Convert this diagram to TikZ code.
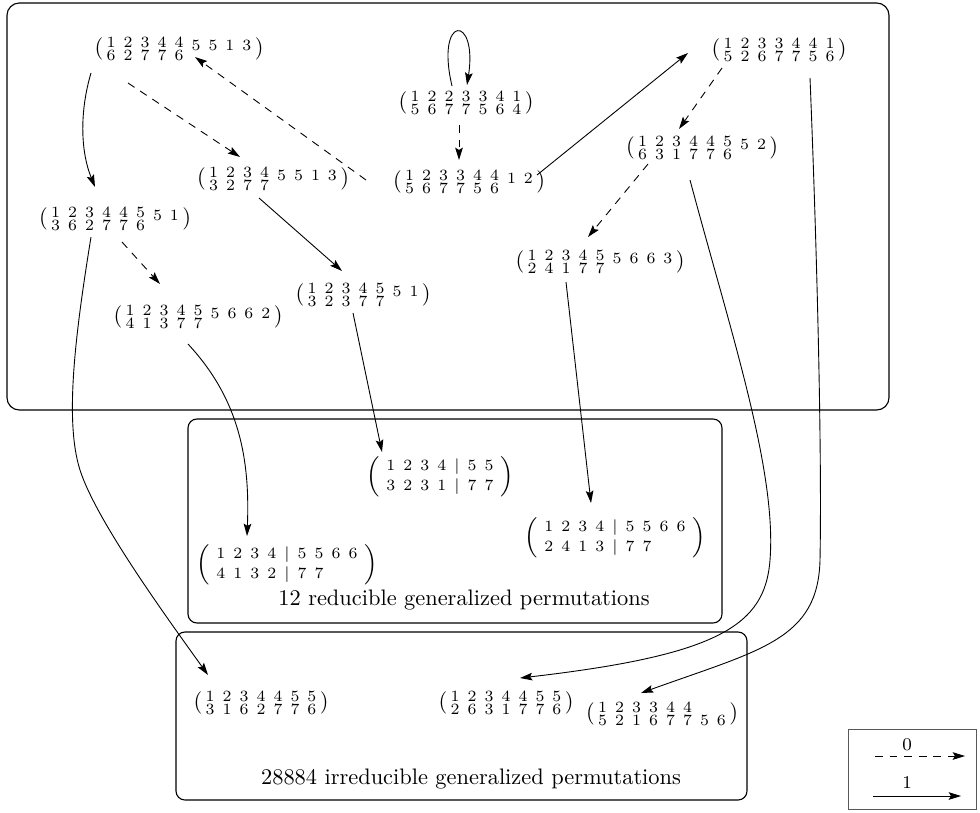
\documentclass[tikz,border=0pt]{standalone}
\usetikzlibrary{arrows.meta}

% two-line generalized permutations, #1 = letters of the top line without partner
\newcommand{\gperm}[3][]{$\left(\kern1.5pt\vcenter{\scriptsize\spaceskip=3.6pt\baselineskip=5.8pt\lineskiplimit=-\maxdimen
  \hbox{#2\if\relax\detokenize{#1}\relax\else\ \raisebox{-1.5pt}{#1}\fi}\hbox{#3}}\kern1.5pt\right)$}
\newcommand{\rperm}[4]{$\Bigl(\kern3pt\vcenter{\scriptsize\spaceskip=3.6pt\baselineskip=8.9pt\lineskiplimit=-\maxdimen
  \hbox{#1 | #2}\hbox{#3 | #4}}\kern3pt\Bigr)$}

\begin{document}
\begin{tikzpicture}[x=0.4464pt,y=-0.4464pt,
    perm/.style={inner sep=0pt},
    zero/.style={dash pattern=on 3.5pt off 3pt,-{Stealth[length=5.5pt,width=3.4pt,inset=1pt]}},
    one/.style={-{Stealth[length=5.5pt,width=3.4pt,inset=1pt]}},
    cluster/.style={line width=0.5pt,rounded corners=4pt}]
  \useasboundingbox (0,0) rectangle (980,812);

  % the three classes
  \draw[cluster,rounded corners=5.5pt] (7,3) rectangle (889,410);
  \draw[cluster] (188,419) rectangle (722,623);
  \draw[cluster] (176,632) rectangle (747,800);

  % generalized permutations of the diagram
  \node[perm] (a1) at (179,49) {\gperm[5 5 1 3]{1 2 3 4 4}{6 2 7 7 6}};
  \node[perm] (a2) at (273,179) {\gperm[5 5 1 3]{1 2 3 4}{3 2 7 7}};
  \node[perm] (a3) at (115,219) {\gperm[5 1]{1 2 3 4 4 5}{3 6 2 7 7 6}};
  \node[perm] (a4) at (198,317) {\gperm[5 6 6 2]{1 2 3 4 5}{4 1 3 7 7}};
  \node[perm] (a5) at (363,295) {\gperm[5 1]{1 2 3 4 5}{3 2 3 7 7}};
  \node[perm] (a6) at (466,103) {\gperm{1 2 2 3 3 4 1}{5 6 7 7 5 6 4}};
  \node[perm] (a7) at (469,182) {\gperm[1 2]{1 2 3 3 4 4}{5 6 7 7 5 6}};
  \node[perm] (a8) at (779,50) {\gperm{1 2 3 3 4 4 1}{5 2 6 7 7 5 6}};
  \node[perm] (a9) at (702,148) {\gperm[5 2]{1 2 3 4 4 5}{6 3 1 7 7 6}};
  \node[perm] (a10) at (600,262) {\gperm[5 6 6 3]{1 2 3 4 5}{2 4 1 7 7}};

  % reducible ones
  \node[perm] (r1) at (440,477) {\rperm{1 2 3 4}{5 5}{3 2 3 1}{7 7}};
  \node[perm] (r2) at (287,565) {\rperm{1 2 3 4}{5 5 6 6}{4 1 3 2}{7 7}};
  \node[perm] (r3) at (615,538) {\rperm{1 2 3 4}{5 5 6 6}{2 4 1 3}{7 7}};
  \node (redcap) at (464,600) {12 reducible generalized permutations};

  % irreducible ones
  \node[perm] (i1) at (261,703) {\gperm{1 2 3 4 4 5 5}{3 1 6 2 7 7 6}};
  \node[perm] (i2) at (506,703) {\gperm{1 2 3 4 4 5 5}{2 6 3 1 7 7 6}};
  \node[perm] (i3) at (662,714) {\gperm{1 2 3 3 4 4}{5 2 1 6 7 7 5 6}};
  \node (irrcap) at (471,779) {28884 irreducible generalized permutations};

  % 0 arrows
  \draw[zero] ([shift={(-51,34)}]a1.center) -- ([shift={(-33,-22)}]a2.center);
  \draw[zero] ([shift={(-103,-2)}]a7.center) -- ([shift={(16,8)}]a1.center);
  \draw[zero] ([shift={(-7,22)}]a6.center) -- ([shift={(-10,-22)}]a7.center);
  \draw[zero] ([shift={(-57,18)}]a8.center) -- ([shift={(-23,-19)}]a9.center);
  \draw[zero] ([shift={(-54,16)}]a9.center) -- ([shift={(-12,-25)}]a10.center);
  \draw[zero] ([shift={(7,23)}]a3.center) -- ([shift={(-38,-33)}]a4.center);

  % 1 arrows
  \draw[one] ([shift={(-88,24)}]a1.center) .. controls (80,110) and (80,150) .. ([shift={(-20,-32)}]a3.center);
  \draw[one] ([shift={(-14,19)}]a2.center) -- ([shift={(-21,-24)}]a5.center);
  \draw[one] ([shift={(-14,-17)}]a6.center) .. controls (435,14) and (478,14) .. ([shift={(1,-18)}]a6.center);
  \draw[one] ([shift={(68,-7)}]a7.center) -- ([shift={(-91,3)}]a8.center);
  \draw[one] ([shift={(-10,18)}]a5.center) -- ([shift={(-58,-25)}]r1.center);
  \draw[one] ([shift={(-34,20)}]a10.center) -- ([shift={(-24,-35)}]r3.center);
  \draw[one] ([shift={(-10,27)}]a4.center) .. controls (240,400) and (250,460) .. ([shift={(-40,-29)}]r2.center);
  \draw[one] ([shift={(-24,18)}]a3.center) .. controls (76,330) and (64,420) .. (80,470)
    .. controls (96,520) and (165,615) .. ([shift={(-53,-28)}]i1.center);
  \draw[one] ([shift={(-12,32)}]a9.center) .. controls (730,330) and (777,470) .. (770,560)
    .. controls (765,625) and (720,655) .. ([shift={(14,-25)}]i2.center);
  \draw[one] ([shift={(31,28)}]a8.center) .. controls (817,250) and (822,450) .. (820,560)
    .. controls (818,640) and (760,650) .. ([shift={(-21,-21)}]i3.center);

  % legend
  \draw[black!65] (848,729) rectangle (976,809);
  \node[font=\footnotesize] (lab0) at (907,745) {0};
  \coordinate (z0) at (875,756);
  \coordinate (z1) at (965,756);
  \draw[zero] (z0) -- (z1);
  \node[font=\footnotesize] (lab1) at (907,783) {1};
  \coordinate (o0) at (873,796);
  \coordinate (o1) at (961,796);
  \draw[one] (o0) -- (o1);
\end{tikzpicture}
\end{document}
